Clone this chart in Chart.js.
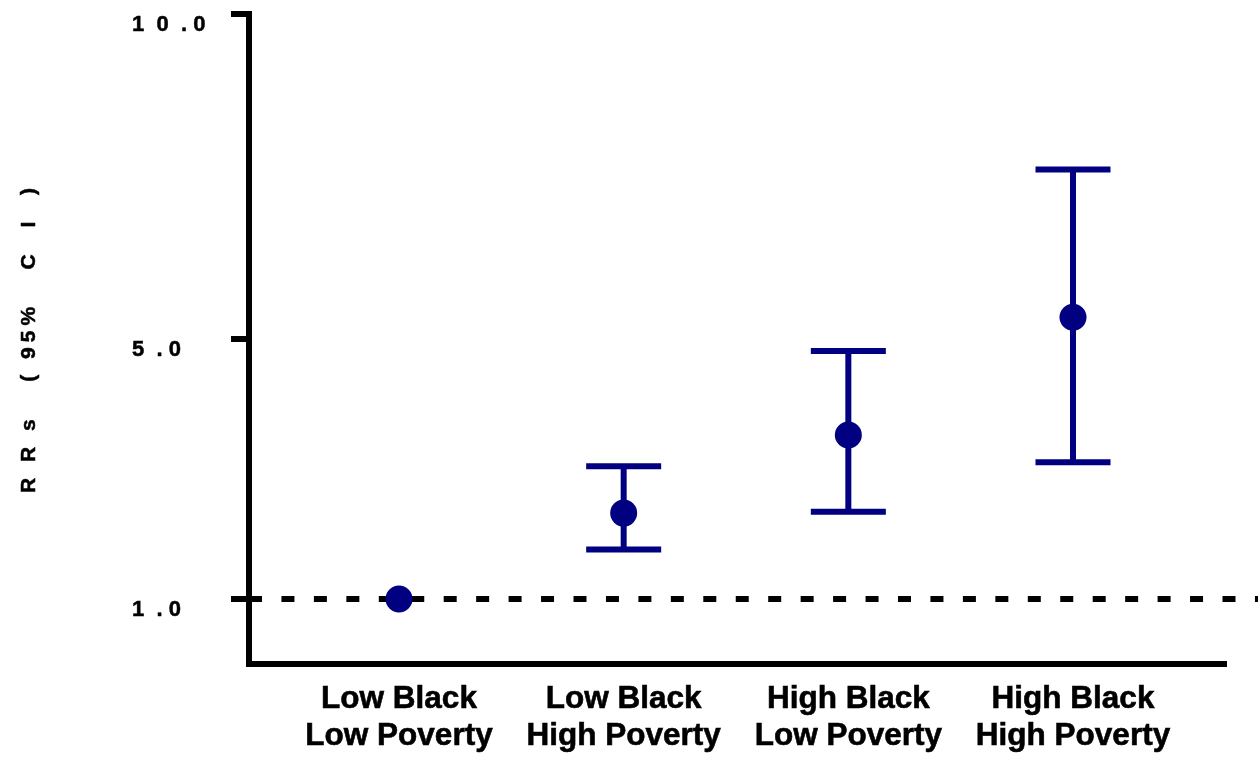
<!DOCTYPE html>
<html>
<head>
<meta charset="utf-8">
<script src="https://cdn.jsdelivr.net/npm/chart.js@4"></script>
<style>
  html, body { margin: 0; padding: 0; background: #ffffff; }
  #wrap { width: 1258px; height: 758px; position: relative; }
</style>
</head>
<body>
<div id="wrap"><canvas id="c"></canvas></div>
<script>
// ---- data ----
const categories = [
  ['Low Black', 'Low Poverty'],
  ['Low Black', 'High Poverty'],
  ['High Black', 'Low Poverty'],
  ['High Black', 'High Poverty']
];
const rrValues = [1.0, 2.32, 3.52, 5.33];
const ciLower  = [null, 1.76, 2.34, 3.10];
const ciUpper  = [null, 3.04, 4.81, 7.60];
const yTickValues = [1, 5, 10];
const yTickLabels = ['1  . 0', '5  . 0', '1  0  . 0'];
const yAxisTitle = 'R R s   ( 95%   C  I  )';
const referenceValue = 1.0;

// ---- style ----
const NAVY = '#000080';
const FONT = "'Liberation Sans', Arial, sans-serif";

const errorBarPlugin = {
  id: 'errorBars',
  beforeDatasetsDraw(chart) {
    const ctx = chart.ctx, xs = chart.scales.x, ys = chart.scales.y;
    const area = chart.chartArea;
    // reference dashed line
    ctx.save();
    ctx.strokeStyle = '#000';
    ctx.lineWidth = 6;
    ctx.setLineDash([13, 19.45]);
    const yr = ys.getPixelForValue(referenceValue);
    ctx.beginPath();
    ctx.moveTo(area.left, yr);
    ctx.lineTo(chart.width, yr);
    ctx.stroke();
    ctx.restore();
    // error bars
    ctx.save();
    ctx.strokeStyle = NAVY;
    ctx.lineWidth = 6;
    ctx.lineCap = 'butt';
    const half = 37.5;
    categories.forEach((c, i) => {
      if (ciLower[i] == null || ciUpper[i] == null) return;
      const x = xs.getPixelForValue(i + 1);
      const yl = ys.getPixelForValue(ciLower[i]);
      const yh = ys.getPixelForValue(ciUpper[i]);
      ctx.beginPath();
      ctx.moveTo(x, yl); ctx.lineTo(x, yh);
      ctx.moveTo(x - half, yl); ctx.lineTo(x + half, yl);
      ctx.moveTo(x - half, yh); ctx.lineTo(x + half, yh);
      ctx.stroke();
    });
    ctx.restore();
  },
  afterDraw(chart) {
    const ctx = chart.ctx;
    ctx.save();
    ctx.fillStyle = '#000';
    ctx.strokeStyle = '#000';
    ctx.lineWidth = 0.5;
    ctx.font = "bold 21px " + FONT;
    ctx.letterSpacing = '5px';
    ctx.textAlign = 'center';
    ctx.textBaseline = 'alphabetic';
    ctx.translate(35, 338);
    ctx.rotate(-Math.PI / 2);
    ctx.strokeText(yAxisTitle, 0, 0);
    ctx.fillText(yAxisTitle, 0, 0);
    ctx.restore();
  }
};

new Chart(document.getElementById('c'), {
  type: 'scatter',
  data: {
    datasets: [{
      data: rrValues.map((v, i) => ({ x: i + 1, y: v })),
      backgroundColor: NAVY,
      borderColor: NAVY,
      borderWidth: 0,
      pointRadius: 13.5,
      pointHoverRadius: 13.5
    }]
  },
  options: {
    responsive: true,
    maintainAspectRatio: false,
    animation: false,
    events: [],
    layout: { padding: { left: 132, right: 32, top: 0, bottom: 0 } },
    plugins: { legend: { display: false }, tooltip: { enabled: false } },
    scales: {
      x: {
        type: 'linear',
        min: 0.3323,
        max: 4.681,
        afterBuildTicks: (s) => { s.ticks = categories.map((c, i) => ({ value: i + 1 })); },
        afterFit: (s) => { s.height = 94; },
        grid: { display: false, drawTicks: false },
        border: { display: true, width: 6, color: '#000' },
        ticks: {
          callback: (v) => categories[Math.round(v) - 1],
          color: '#000',
          textStrokeColor: '#000',
          textStrokeWidth: 0.6,
          font: { family: FONT, size: 31.5, weight: 'bold', lineHeight: '37px' },
          padding: 17,
          maxRotation: 0,
          autoSkip: false
        }
      },
      y: {
        type: 'linear',
        min: 0,
        max: 10,
        afterBuildTicks: (s) => { s.ticks = yTickValues.map(v => ({ value: v })); },
        afterFit: (s) => { s.width = 117; },
        grid: {
          display: true, drawOnChartArea: false, drawTicks: true,
          tickLength: 18, tickWidth: 6, tickColor: '#000', lineWidth: 6, color: '#000'
        },
        border: { display: true, width: 6, color: '#000' },
        ticks: {
          callback: (v) => yTickLabels[yTickValues.indexOf(v)],
          color: '#000',
          textStrokeColor: '#000',
          textStrokeWidth: 0.5,
          crossAlign: 'far',
          padding: 0,
          labelOffset: 11,
          font: { family: FONT, size: 22, weight: 'bold', lineHeight: 1.15 },
          autoSkip: false
        }
      }
    }
  },
  plugins: [errorBarPlugin]
});
</script>
</body>
</html>
